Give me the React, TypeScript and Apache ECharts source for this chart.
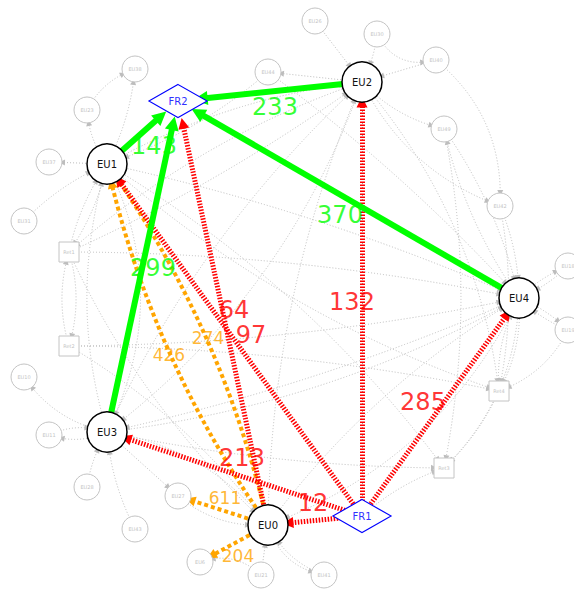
import React, { useEffect, useRef } from "react";
import * as echarts from "echarts";

// ---- Nodes (shell layout positions) ----
const nodeNames = [
  "EU0", "EU1", "EU2", "EU3", "EU4", "FR1", "FR2", "Ret1", "Ret2", "Ret3", "Ret4",
  "EU44", "EU49", "EU42", "EU27",
  "EU26", "EU30", "EU40", "EU18", "EU19", "EU41", "EU21", "EU6", "EU43", "EU28",
  "EU11", "EU10", "EU31", "EU37", "EU23", "EU38",
];
const nodeX = [
  268, 107, 362, 107, 519, 362, 178, 69, 69, 444, 499,
  268, 444, 500, 178,
  315, 377, 436, 568, 568, 324, 261, 200, 135, 87,
  49, 24, 24, 49, 87, 135,
];
const nodeY = [
  525, 164, 82, 432, 298, 516, 101, 252, 346, 468, 391,
  72, 129, 206, 496,
  21, 34, 60, 266, 330, 575, 575, 562, 529, 487,
  435, 377, 221, 162, 110, 69,
];
const mainNodes = ["EU0", "EU1", "EU2", "EU3", "EU4"];

// ---- Highlighted flows ----
const greenSources = ["EU2", "EU4", "EU1", "EU3"];
const greenTargets = ["FR2", "FR2", "FR2", "FR2"];
const greenValues = [233, 370, 143, 299];

const redSources = ["FR1", "FR1", "FR1", "FR1", "FR1", "EU0"];
const redTargets = ["EU2", "EU1", "EU4", "EU0", "EU3", "FR2"];
const redValues = [132, 97, 285, 12, 213, 64];

const orangeSources = ["EU0", "EU0", "EU0", "EU0"];
const orangeTargets = ["EU1", "EU1", "EU27", "EU6"];
const orangeValues = [274, 426, 611, 204];

// ---- Background (grey dotted) links ----
const greyLinks: [string, string][] = [
  ["EU26", "EU2"], ["EU30", "EU2"], ["EU40", "EU2"], ["EU30", "EU40"], ["EU2", "EU44"],
  ["EU2", "EU49"], ["EU40", "EU42"], ["EU49", "EU4"], ["EU4", "EU49"], ["EU42", "EU4"],
  ["EU2", "EU42"], ["EU18", "EU4"], ["EU4", "EU18"], ["EU19", "EU4"], ["EU4", "EU19"],
  ["EU4", "Ret4"], ["Ret4", "EU4"], ["EU19", "Ret4"], ["Ret4", "Ret3"], ["EU4", "Ret3"],
  ["EU1", "EU37"], ["EU1", "EU23"], ["EU1", "EU38"], ["EU23", "EU38"], ["EU31", "EU1"],
  ["EU1", "Ret1"], ["Ret1", "EU1"], ["Ret1", "Ret2"], ["Ret2", "Ret1"], ["EU3", "EU10"],
  ["EU44", "EU1"], ["EU1", "EU4"], ["Ret1", "EU4"], ["Ret2", "EU4"], ["EU3", "EU4"],
  ["EU1", "EU2"], ["Ret1", "EU2"], ["EU3", "EU2"], ["EU0", "EU4"], ["EU0", "EU2"],
  ["EU1", "Ret3"], ["EU3", "Ret3"], ["Ret2", "Ret4"], ["EU1", "Ret4"], ["EU2", "Ret4"],
  ["EU2", "Ret1"], ["EU4", "EU3"], ["EU4", "EU0"], ["EU3", "EU0"], ["EU1", "EU3"],
  ["EU3", "EU1"], ["EU3", "EU11"], ["EU11", "EU3"], ["EU28", "EU3"], ["EU43", "EU3"],
  ["EU3", "EU27"], ["EU21", "EU0"], ["EU41", "EU0"], ["EU21", "EU6"], ["EU0", "EU41"],
  ["Ret2", "EU0"], ["Ret1", "EU0"], ["EU44", "EU4"], ["EU42", "Ret4"], ["FR1", "Ret3"],
  ["EU27", "EU0"], ["EU49", "Ret3"], ["EU2", "EU3"],
];

// drawing styles (not data)
const greyBend = [
  0, 0.1, 0, -0.4, 0, -0.15, 0.25, 0.1, 0.1, 0.1,
  -0.2, 0.1, 0.1, 0.1, 0.1, 0.15, 0.15, 0.2, 0.1, 0.2,
  0, 0.15, -0.1, 0.2, 0.1, 0.1, 0.1, 0.15, 0.15, 0.2,
  0.1, 0.05, 0.05, -0.05, -0.1, 0.1, -0.05, 0.1, 0.1, 0.1,
  0.1, -0.05, 0.05, -0.1, 0.15, -0.1, 0.05, 0.2, 0.2, 0.25,
  0.15, 0.2, 0.2, 0.1, 0.1, 0, 0, 0.2, -0.3, -0.3,
  0.1, -0.1, 0.05, 0.1, 0.1, -0.2, 0.1, 0.15,
];
const orangeBend = [-0.1, 0.1, 0, 0];
const labelShift: Record<string, [number, number]> = {
  g233: [5, 15.5], g370: [-8.5, 15.5], g143: [11.5, 13.5], g299: [10.5, 1.5],
  r132: [-10, 3], r97: [16.5, -5], r285: [-17.5, -5], r12: [-2, -17.5], r213: [7.5, -16], r64: [11, -3],
  o274: [2.5, 1.5], o426: [-0.5, 2.5], o611: [2, -12.5], o204: [4, 12.5],
};

const FONT = "DejaVu Sans";
const GREY = "#c4c4c4";

function pos(name: string): [number, number] {
  const i = nodeNames.indexOf(name);
  return [nodeX[i], nodeY[i]];
}

export default function App() {
  const ref = useRef<HTMLDivElement>(null);
  useEffect(() => {
    if (!ref.current) return;
    const chart = echarts.init(ref.current, undefined, { renderer: "svg" });

    const nodes = nodeNames.map((name, i) => {
      const isMain = mainNodes.includes(name);
      const isFR = name.startsWith("FR");
      const isRet = name.startsWith("Ret");
      let symbol = "circle";
      let symbolSize: any = 26;
      let itemStyle: any = { color: "#fff", borderColor: GREY, borderWidth: 1 };
      let label: any = { show: true, position: "inside", color: GREY, fontSize: 5, fontFamily: FONT };
      if (isMain) {
        symbolSize = 40;
        itemStyle = { color: "#fff", borderColor: "#000", borderWidth: 1.5 };
        label = { show: true, position: "inside", color: "#111", fontSize: 10, fontFamily: FONT };
      } else if (isFR) {
        symbol = "diamond";
        symbolSize = [58, 33];
        itemStyle = { color: "#fff", borderColor: "#0000ff", borderWidth: 1.3 };
        label = { show: true, position: "inside", color: "#3030ff", fontSize: 10, fontFamily: FONT };
      } else if (isRet) {
        symbol = "rect";
        symbolSize = 20;
      }
      return { name, value: [nodeX[i], nodeY[i]], symbol, symbolSize, itemStyle, label };
    });

    const links: any[] = [];
    greyLinks.forEach(([s, t], i) => {
      links.push({
        source: s, target: t,
        symbol: ["none", "triangle"], symbolSize: [0, 6],
        lineStyle: { color: "#bdbdbd", width: 1, type: [1, 2], curveness: greyBend[i], opacity: 1 },
      });
    });
    links.push({
      source: "FR1", target: "EU2", symbol: ["none", "none"],
      lineStyle: { color: "#444", width: 1, type: [1, 3], curveness: 0 },
    });
    orangeSources.forEach((s, i) => {
      links.push({
        source: s, target: orangeTargets[i], value: orangeValues[i],
        symbol: ["none", "triangle"], symbolSize: [0, 10],
        lineStyle: { color: "#ffa500", width: 4, type: [4, 3], cap: "butt", curveness: orangeBend[i], opacity: 1 },
      });
    });
    redSources.forEach((s, i) => {
      links.push({
        source: s, target: redTargets[i], value: redValues[i],
        symbol: ["none", "triangle"], symbolSize: [0, 11],
        lineStyle: { color: "#ff0000", width: 5, type: [1.5, 1.5], cap: "butt", curveness: 0, opacity: 1 },
      });
    });
    greenSources.forEach((s, i) => {
      links.push({
        source: s, target: greenTargets[i], value: greenValues[i],
        symbol: ["none", "triangle"], symbolSize: [0, 14],
        lineStyle: { color: "#00ff00", width: 6, type: "solid", curveness: 0, opacity: 1 },
      });
    });

    // Edge value labels placed at the (curve) midpoint of each edge
    const labelPts: any[] = [];
    const addLabels = (srcs: string[], tgts: string[], vals: number[], bends: number[], key: string, color: string, size: number) => {
      srcs.forEach((s, i) => {
        const p1 = pos(s);
        const p2 = pos(tgts[i]);
        const c = bends[i] || 0;
        const mx = (p1[0] + p2[0]) / 2 - ((p1[1] - p2[1]) * c) / 2;
        const my = (p1[1] + p2[1]) / 2 - ((p2[0] - p1[0]) * c) / 2;
        const sh = labelShift[key + vals[i]] || [0, 0];
        labelPts.push({
          name: String(vals[i]),
          value: [mx + sh[0], my + sh[1]],
          label: { color, fontSize: size },
        });
      });
    };
    addLabels(orangeSources, orangeTargets, orangeValues, orangeBend, "o", "#ffa500", 17);
    addLabels(redSources, redTargets, redValues, [], "r", "#ff0000", 24);
    addLabels(greenSources, greenTargets, greenValues, [], "g", "#00ff00", 24);

    chart.setOption({
      animation: false,
      backgroundColor: "#ffffff",
      grid: { left: 0, right: 0, top: 0, bottom: 0 },
      xAxis: { type: "value", min: 0, max: 574, show: false },
      yAxis: { type: "value", min: 0, max: 590, inverse: true, show: false },
      series: [
        {
          type: "graph",
          coordinateSystem: "cartesian2d",
          data: nodes,
          links,
          edgeSymbol: ["none", "triangle"],
          emphasis: { disabled: true },
          z: 2,
        },
        {
          type: "scatter",
          data: labelPts,
          symbolSize: 1,
          itemStyle: { color: "rgba(0,0,0,0)" },
          label: { show: true, position: "inside", formatter: "{b}", fontFamily: FONT },
          emphasis: { disabled: true },
          z: 5,
        },
      ],
    });
    return () => chart.dispose();
  }, []);
  return <div ref={ref} style={{ position: "fixed", left: 0, top: 0, width: 574, height: 590 }} />;
}
